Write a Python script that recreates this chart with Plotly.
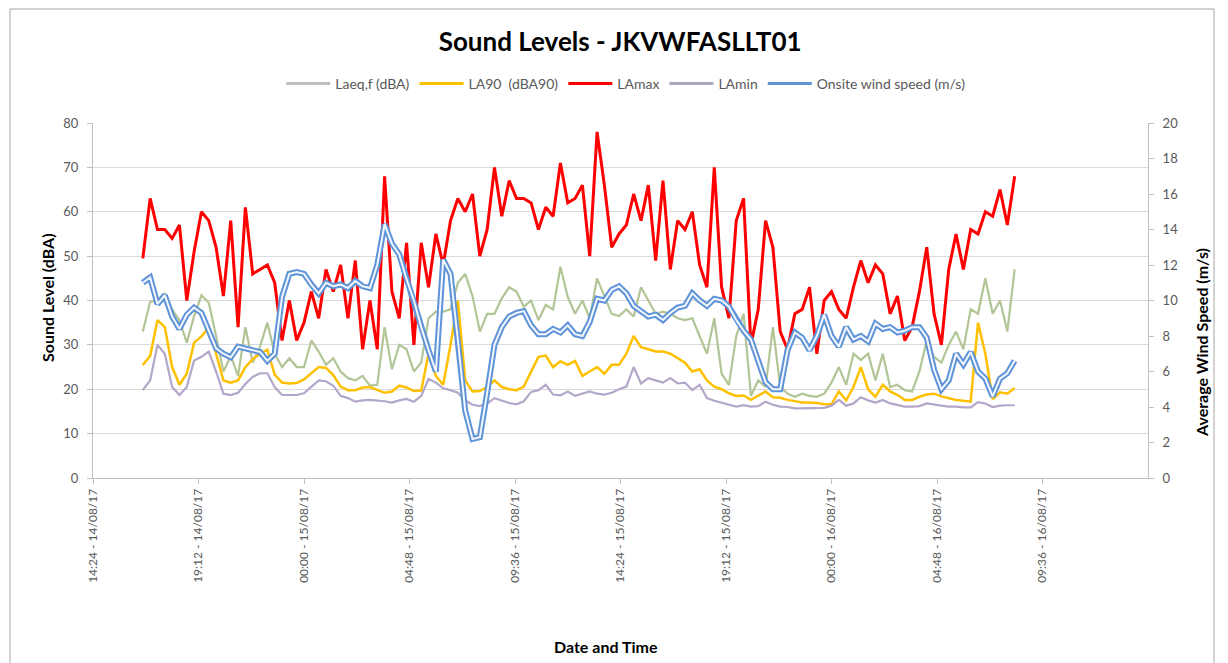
import pandas as pd
import plotly.graph_objects as go

# 20-minute logging interval, 16:40 14/08/17 to 08:20 16/08/17
times = pd.date_range("2017-08-14 16:40", periods=120, freq="20min")

laeq = [33, 39.7, 40, 41.5, 38, 35.5, 30.5, 36.5, 41.2, 39.5, 32, 24, 27.5, 23, 34, 26, 29.6, 35, 28, 25, 27, 25, 25, 31, 28.5,
        25.5, 27, 24, 22.5, 22, 23, 20.8, 21, 34, 24.5, 30, 29, 24, 26, 36, 37.5, 37.5, 38, 44, 46, 41, 33, 37, 37,
        40.5, 43, 42, 38.6, 40, 35.6, 39, 38, 47.6, 40.8, 37, 40, 36, 45, 41, 37, 36.5, 38, 36.4, 43, 40, 37, 37.5, 37, 36,
        35.6, 36, 32, 28, 36, 23.5, 21, 32, 37, 18.5, 22, 20.5, 34, 20.6, 19, 18.3, 19, 18.5, 18.3, 19, 21.5, 25, 21, 28,
        26.6, 28, 22, 28, 20.5, 21, 19.8, 19.5, 24, 31, 27.3, 26, 30, 33, 29, 38, 37, 45, 37, 40, 33, 47]

la90 = [25.5, 27.5, 35.6, 34, 25, 21, 23.5, 30.5, 31.9, 34, 28, 22, 21.5, 22, 25, 26.8, 28, 28.9, 23.3, 21.5, 21.3, 21.4, 22.2, 23.5, 25,
        24.8, 23.2, 20.6, 19.8, 19.8, 20.4, 20.5, 19.9, 19.2, 19.5, 20.8, 20.4, 19.6, 19.7, 28, 23, 21, 30, 40, 22, 19.5, 19.6, 20.5, 22,
        20.5, 20, 19.8, 20.6, 24, 27.3, 27.6, 25, 26.3, 25.5, 26.4, 23, 24, 25, 23.5, 25.5, 25.5, 28, 32, 29.5, 29, 28.5, 28.5, 28, 27,
        26, 24, 24.5, 22, 20.6, 20, 19.1, 18.5, 18.6, 17.6, 18.5, 19.5, 18.2, 18.1, 17.6, 17.3, 17, 17, 16.9, 16.6, 16.6, 19.5, 17.5, 20.5,
        25, 20, 18.3, 21, 19.5, 18.7, 17.6, 17.6, 18.3, 18.8, 19, 18.4, 18, 17.6, 17.4, 17.2, 35, 28, 17.8, 19.3, 19, 20.3]

lamax = [49.5, 63, 56, 56, 54, 57, 40, 51, 60, 58, 52, 41, 58, 34, 61, 46, 47, 48, 44, 31, 40, 31, 35, 42, 36,
         47, 42, 48, 36, 49, 29, 40, 29, 68, 42, 36, 53, 30, 53, 43, 55, 48, 58, 63, 60, 64, 50, 56, 70,
         59, 67, 63, 63, 62, 56, 61, 59, 71, 62, 63, 66, 50, 78, 66, 52, 55, 57, 64, 58, 66, 49, 67, 47, 58,
         56, 60, 48, 43, 70, 43, 36, 58, 63, 30, 38, 58, 52, 33, 29, 37, 38, 43, 28, 40, 42, 38, 36, 43,
         49, 44, 48, 46, 37, 41, 31, 34, 42, 52, 37, 30, 47, 55, 47, 56, 55, 60, 59, 65, 57, 68]

lamin = [19.8, 22, 30, 28, 20.5, 18.7, 20.5, 26.5, 27.3, 28.5, 24, 19, 18.7, 19.2, 21.2, 22.8, 23.6, 23.6, 20.5, 18.7, 18.7, 18.7, 19.1, 20.6, 22,
         21.8, 20.8, 18.5, 18, 17.2, 17.5, 17.6, 17.5, 17.3, 17, 17.5, 17.8, 17.2, 18.5, 22.3, 21.5, 20.2, 19.8, 19.2, 17.5, 16.5, 16.2, 16.8, 18,
         17.5, 16.9, 16.6, 17.3, 19.4, 19.8, 21, 18.8, 18.6, 19.5, 18.5, 19, 19.5, 19, 18.8, 19.2, 20, 20.6, 25, 21.3, 22.5, 22, 21.5, 22.5, 21.3,
         21.5, 19.8, 21, 18, 17.4, 17, 16.5, 16.1, 16.4, 16.1, 16.2, 17.2, 16.5, 16.1, 16, 15.7, 15.7, 15.7, 15.7, 15.8, 16.3, 17.6, 16.3, 16.8,
         18.2, 17.5, 17, 17.6, 16.8, 16.4, 16.1, 16.1, 16.2, 16.8, 16.5, 16.3, 16.1, 16.1, 15.9, 15.9, 17.1, 16.8, 16, 16.3, 16.4, 16.4]

wind = [11.0, 11.3, 9.8, 10.3, 9.1, 8.4, 9.2, 9.6, 9.3, 8.3, 7.3, 7.0, 6.8, 7.4, 7.3, 7.2, 7.1, 6.6, 7.0, 10.2, 11.5, 11.6, 11.5, 10.9, 10.4,
        11.0, 10.8, 10.9, 10.7, 11.1, 10.8, 10.7, 12.0, 14.3, 13.2, 12.6, 11.2, 10.0, 8.5, 7.2, 6.0, 12.3, 11.5, 7.8, 3.8, 2.2, 2.3, 4.8, 7.5,
        8.5, 9.1, 9.3, 9.4, 8.6, 8.1, 8.1, 8.4, 8.2, 8.6, 8.1, 8.0, 8.8, 10.1, 10.0, 10.6, 10.8, 10.4, 9.7, 9.4, 9.1, 9.2, 8.9, 9.3, 9.6,
        9.7, 10.4, 10.0, 9.7, 10.1, 10.0, 9.65, 8.9, 8.3, 7.8, 6.6, 5.4, 5.0, 5.0, 7.2, 8.2, 7.9, 7.2, 8.0, 9.2, 8.0, 7.4, 8.5, 7.8,
        8.0, 7.7, 8.7, 8.4, 8.5, 8.2, 8.3, 8.5, 8.5, 7.9, 6.1, 5.0, 5.5, 7.0, 6.4, 7.1, 6.0, 5.6, 4.6, 5.6, 5.9, 6.6]

tick_times = pd.date_range("2017-08-14 14:24", periods=10, freq="288min")
tick_text = [t.strftime("%H:%M - %d/%m/%y") for t in tick_times]

FONT = "Lato, 'Open Sans', sans-serif"
GREY_TXT = "#595959"

fig = go.Figure()

# sound level series on the primary axis
fig.add_trace(go.Scatter(x=times, y=laeq, mode="lines", line=dict(color="#B2C596", width=2.2),
                         showlegend=False, hoverinfo="skip"))
fig.add_trace(go.Scatter(x=times, y=la90, mode="lines", line=dict(color="#FFC000", width=2.5),
                         showlegend=False, hoverinfo="skip"))
fig.add_trace(go.Scatter(x=times, y=lamax, mode="lines", line=dict(color="#FF0000", width=3),
                         showlegend=False, hoverinfo="skip"))
fig.add_trace(go.Scatter(x=times, y=lamin, mode="lines", line=dict(color="#B3A6C9", width=2.2),
                         showlegend=False, hoverinfo="skip"))

# wind speed on the secondary axis, drawn as a double (outlined) line
fig.add_trace(go.Scatter(x=times, y=wind, mode="lines", yaxis="y2", line=dict(color="#5F93D8", width=6),
                         showlegend=False, hoverinfo="skip"))
fig.add_trace(go.Scatter(x=times, y=wind, mode="lines", yaxis="y2", line=dict(color="#F2F7FD", width=2),
                         showlegend=False, hoverinfo="skip"))

# legend entries
legend_items = [("Laeq,f (dBA)", "#BFBFBF"), ("LA90  (dBA90)", "#FFC000"), ("LAmax", "#FF0000"),
                ("LAmin", "#ABA6BD"), ("Onsite wind speed (m/s)", "#5F93D8")]
for name, col in legend_items:
    fig.add_trace(go.Scatter(x=[None], y=[None], mode="lines", name=name,
                             line=dict(color=col, width=3)))

fig.update_layout(
    width=1228, height=663,
    margin=dict(l=93, r=80, t=123, b=185),
    paper_bgcolor="white", plot_bgcolor="white",
    font=dict(family=FONT, size=12, color=GREY_TXT),
    title=dict(text="<b>Sound Levels - JKVWFASLLT01</b>", x=0.505, xanchor="center",
               y=1 - 42 / 663, yanchor="middle", font=dict(size=26, color="black", family=FONT)),
    legend=dict(orientation="h", x=0.505, xanchor="center", y=1 + 39 / 355, yanchor="middle",
                font=dict(size=14, color=GREY_TXT), itemwidth=44, traceorder="normal",
                bgcolor="rgba(0,0,0,0)"),
    xaxis=dict(type="date", range=["2017-08-14 14:24", "2017-08-16 14:24"],
               tickvals=tick_times, ticktext=tick_text, tickangle=-90,
               showgrid=False, showline=True, linecolor="#BFBFBF", linewidth=1,
               ticks="outside", ticklen=5, tickcolor="#BFBFBF", zeroline=False,
               tickfont=dict(size=12, color=GREY_TXT)),
    yaxis=dict(range=[0, 80], dtick=10, showgrid=True, gridcolor="#D9D9D9", gridwidth=1,
               showline=True, linecolor="#BFBFBF", ticks="outside", ticklen=5, tickcolor="#BFBFBF",
               zeroline=False, ticklabelstandoff=6, tickfont=dict(size=13, color=GREY_TXT)),
    yaxis2=dict(range=[0, 20], dtick=2, overlaying="y", side="right", showgrid=False,
                showline=True, linecolor="#BFBFBF", ticks="outside", ticklen=5, tickcolor="#BFBFBF",
                zeroline=False, ticklabelstandoff=6, tickfont=dict(size=13, color=GREY_TXT)),
    shapes=[dict(type="rect", xref="paper", yref="paper",
                 x0=(10 - 93) / 1055, x1=(1214 - 93) / 1055,
                 y0=(478 - 700) / 355, y1=(478 - 9) / 355,
                 line=dict(color="#A6A6A6", width=1), fillcolor="rgba(0,0,0,0)", layer="below")],
    annotations=[
        dict(text="<b>Sound Level (dBA)</b>", xref="paper", yref="paper",
             x=(47 - 93) / 1055, y=(478 - 298) / 355, xanchor="center", yanchor="middle",
             textangle=-90, showarrow=False,
             font=dict(size=16, color="black", family=FONT)),
        dict(text="<b>Average Wind Speed (m/s)</b>", xref="paper", yref="paper",
             x=(1201 - 93) / 1055, y=(478 - 343) / 355, xanchor="center", yanchor="middle",
             textangle=-90, showarrow=False,
             font=dict(size=16, color="black", family=FONT)),
        dict(text="<b>Date and Time</b>", xref="paper", yref="paper",
             x=(606 - 93) / 1055, y=(478 - 646) / 355, xanchor="center", yanchor="middle",
             showarrow=False,
             font=dict(size=16, color="black", family=FONT)),
    ],
)

fig.write_html("out.html")
